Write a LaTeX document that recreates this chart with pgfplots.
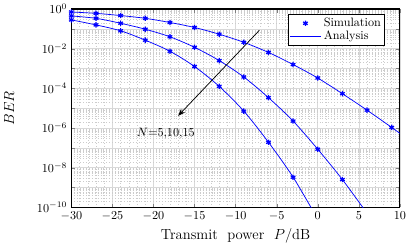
\documentclass[border=0pt]{standalone}
\usepackage{pgfplots}
\pgfplotsset{compat=1.18}
\usetikzlibrary{arrows.meta}
\pgfplotsset{
  simleg/.style={legend image code/.code={\draw[##1] plot coordinates {(0.45cm,0cm)};}},
  analeg/.style={legend image code/.code={\draw[##1, draw=blue] (0cm,0cm) -- (0.9cm,0cm);}},
}
\pgfplotstableread{
x y
-30 0.708
-27 0.603
-24 0.468
-21 0.339
-18 0.209
-15 0.117
-12 0.0537
-9 0.0209
-6 6.46e-3
-3 1.58e-3
0 3.31e-4
3 5.37e-5
6 7.94e-6
9 1.07e-6
}\simA
\pgfplotstableread{
x y
-30 0.708
-27 0.603
-24 0.468
-21 0.339
-18 0.209
-15 0.117
-12 0.0537
-9 0.0209
-6 6.46e-3
-3 1.58e-3
0 3.31e-4
3 5.37e-5
6 7.94e-6
9 1.07e-6
10 5.37e-7
}\anaA
\pgfplotstableread{
x y
-30 0.447
-27 0.339
-24 0.191
-21 0.0955
-18 0.0398
-15 0.0117
-12 2.51e-3
-9 3.72e-4
-6 3.39e-5
-3 2.24e-6
0 8.51e-8
3 2.51e-9
}\simB
\pgfplotstableread{
x y
-30 0.447
-27 0.339
-24 0.191
-21 0.0955
-18 0.0398
-15 0.0117
-12 2.51e-3
-9 3.72e-4
-6 3.39e-5
-3 2.24e-6
0 8.51e-8
3 2.51e-9
6 5.01e-11
}\anaB
\pgfplotstableread{
x y
-30 0.282
-27 0.158
-24 0.0794
-21 0.0269
-18 7.41e-3
-15 1.26e-3
-12 1.26e-4
-9 7.08e-6
-6 1.91e-7
-3 3.31e-9
}\simC
\pgfplotstableread{
x y
-30 0.282
-27 0.158
-24 0.0794
-21 0.0269
-18 7.41e-3
-15 1.26e-3
-12 1.26e-4
-9 7.08e-6
-6 1.91e-7
-3 3.31e-9
0 2.51e-11
}\anaC
\begin{document}
\begin{tikzpicture}
\begin{axis}[
  scale only axis,
  width=270pt, height=163pt,
  ymode=log,
  xmin=-30, xmax=10, ymin=1e-10, ymax=1,
  xtick={-30,-25,...,10},
  minor x tick num=4,
  ytick={1e-10,1e-9,1e-8,1e-7,1e-6,1e-5,1e-4,1e-3,1e-2,1e-1,1},
  yticklabels={$10^{-10}$,,$10^{-8}$,,$10^{-6}$,,$10^{-4}$,,$10^{-2}$,,$10^{0}$},
  grid=both,
  major grid style={gray!30, line width=0.4pt},
  minor grid style={gray!40, dotted, line width=0.3pt},
  tick align=inside,
  major tick length=3pt,
  minor tick length=0pt,
  axis line style={line width=0.9pt},
  xlabel={\large Transmit\ \ power\ \ $P$/dB},
  ylabel={\large $BER$},
  ylabel shift=12pt,
  legend style={at={(0.955,0.975)}, anchor=north east, draw=black, line width=0.8pt,
    font=\normalsize, inner sep=1pt, row sep=-2pt, cells={anchor=west}},
  legend cell align=left,
]
\addlegendimage{only marks, mark=asterisk, mark size=2.2pt, blue, line width=1pt, simleg}
\addlegendentry{Simulation}
\addlegendimage{blue, line width=0.6pt, analeg}
\addlegendentry{Analysis}
\addplot[blue, line width=0.6pt, smooth, forget plot] table {\anaA};
\addplot[blue, line width=0.6pt, smooth, forget plot] table {\anaB};
\addplot[blue, line width=0.6pt, smooth, forget plot] table {\anaC};
\addplot[blue, only marks, mark=asterisk, mark size=2.2pt, line width=1pt, forget plot] table {\simA};
\addplot[blue, only marks, mark=asterisk, mark size=2.2pt, line width=1pt, forget plot] table {\simB};
\addplot[blue, only marks, mark=asterisk, mark size=2.2pt, line width=1pt, forget plot] table {\simC};
\draw[-{Stealth[length=6pt,width=4.5pt]}, line width=0.6pt] (axis cs:-7.1,8.5e-2) -- (axis cs:-17,4.1e-6);
\node at (axis cs:-18.5,5e-7) {$N$=5,10,15};
\end{axis}
\end{tikzpicture}
\end{document}
